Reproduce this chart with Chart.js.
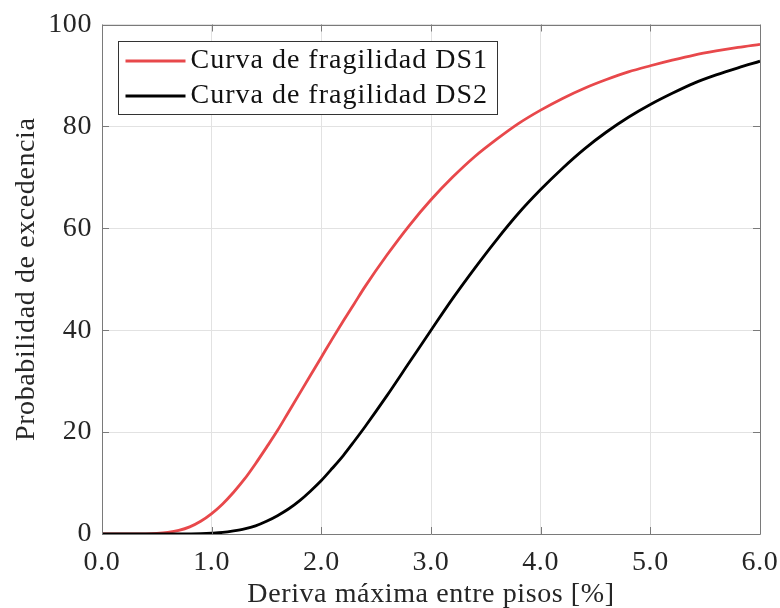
<!DOCTYPE html>
<html>
<head>
<meta charset="utf-8">
<script src="https://cdn.jsdelivr.net/npm/chart.js@4"></script>
<style>
  html, body { margin: 0; padding: 0; background: #ffffff; }
  #wrap { position: relative; width: 780px; height: 608px; }
</style>
</head>
<body>
<div id="wrap"><canvas id="c" width="780" height="608"></canvas></div>
<script>
// ---- data ----
const driftValues = [0.0,0.2,0.4,0.5,0.6,0.7,0.8,0.9,1.0,1.1,1.2,1.3,1.4,1.5,1.6,1.7,1.8,1.9,2.0,2.1,2.2,2.3,2.4,2.6,2.8,3.0,3.2,3.4,3.6,3.8,4.0,4.2,4.4,4.6,4.8,5.0,5.2,5.4,5.6,5.8,6.0];
const ds1Values = [0,0,0.02,0.1,0.3,0.7,1.4,2.5,4.0,5.9,8.2,10.8,13.8,17.0,20.3,23.9,27.5,31.1,34.7,38.3,41.8,45.2,48.6,54.8,60.5,65.6,70.1,74.1,77.5,80.6,83.2,85.5,87.5,89.2,90.7,91.9,93.0,94.0,94.8,95.5,96.1];
const ds2Values = [0,0,0,0,0,0,0.02,0.06,0.15,0.3,0.6,1.0,1.6,2.5,3.6,4.9,6.5,8.4,10.5,12.9,15.4,18.2,21.1,27.2,33.6,40.0,46.3,52.2,57.8,63.0,67.6,71.8,75.6,78.9,81.8,84.3,86.5,88.5,90.1,91.5,92.8];
const seriesLabels = ['Curva de fragilidad DS1', 'Curva de fragilidad DS2'];
const xTickValues = [0, 1, 2, 3, 4, 5, 6];
const yTickValues = [0, 20, 40, 60, 80, 100];
const xTitle = 'Deriva máxima entre pisos [%]';
const yTitle = 'Probabilidad de excedencia';

const FONT = '"Liberation Serif", "DejaVu Serif", serif';
const FS = 28;
const TEXT = '#262626';
const AXIS = '#7a7a7a';
const GRID = '#e2e2e2';
const RED = '#e8484b';

function pts(xs, ys) { return xs.map((x, i) => ({ x: x, y: ys[i] })); }

const spacingPlugin = {
  id: 'spacing',
  beforeDraw(chart) { if ('letterSpacing' in chart.ctx) chart.ctx.letterSpacing = '0.6px'; }
};

const boxTicksPlugin = {
  id: 'boxTicks',
  afterDraw(chart) {
    const { ctx, chartArea: a, scales } = chart;
    const xs = scales.x, ys = scales.y;
    const L = 7;
    ctx.save();
    ctx.strokeStyle = AXIS;
    ctx.lineWidth = 1;
    ctx.beginPath();
    ctx.rect(Math.round(a.left) + 0.5, Math.round(a.top) + 0.5,
             Math.round(a.right) - Math.round(a.left), Math.round(a.bottom) - Math.round(a.top));
    xTickValues.forEach(v => {
      const px = Math.round(xs.getPixelForValue(v)) + 0.5;
      ctx.moveTo(px, a.bottom); ctx.lineTo(px, a.bottom - L);
      ctx.moveTo(px, a.top); ctx.lineTo(px, a.top + L);
    });
    yTickValues.forEach(v => {
      const py = Math.round(ys.getPixelForValue(v)) + 0.5;
      ctx.moveTo(a.left, py); ctx.lineTo(a.left + L, py);
      ctx.moveTo(a.right, py); ctx.lineTo(a.right - L, py);
    });
    ctx.stroke();

    // legend box (MATLAB style, upper left inside axes)
    const bx = Math.round(a.left) + 16.5, by = Math.round(a.top) + 16.5;
    const bw = 379, bh = 73;
    ctx.fillStyle = '#ffffff';
    ctx.fillRect(bx, by, bw, bh);
    ctx.strokeStyle = '#333333';
    ctx.lineWidth = 1;
    ctx.strokeRect(bx, by, bw, bh);
    ctx.font = FS + 'px ' + FONT;
    if ('letterSpacing' in ctx) ctx.letterSpacing = '1px';
    ctx.textBaseline = 'alphabetic';
    ctx.textAlign = 'left';
    chart.data.datasets.forEach((d, i) => {
      const ly = by + 19.5 + i * 35;
      ctx.strokeStyle = d.borderColor;
      ctx.lineWidth = 2.8;
      ctx.beginPath();
      ctx.moveTo(bx + 7, ly); ctx.lineTo(bx + 67, ly);
      ctx.stroke();
      ctx.fillStyle = '#111111';
      ctx.fillText(d.label, bx + 72, ly + 7);
    });
    ctx.restore();
  }
};

new Chart(document.getElementById('c'), {
  type: 'line',
  data: {
    datasets: [
      { label: seriesLabels[0], data: pts(driftValues, ds1Values), borderColor: RED, backgroundColor: RED,
        borderWidth: 2.8, pointRadius: 0, cubicInterpolationMode: 'monotone', order: 1 },
      { label: seriesLabels[1], data: pts(driftValues, ds2Values), borderColor: '#000000', backgroundColor: '#000000',
        borderWidth: 2.8, pointRadius: 0, cubicInterpolationMode: 'monotone', order: 0 }
    ]
  },
  options: {
    responsive: false,
    devicePixelRatio: 1,
    animation: false,
    layout: { padding: { top: 24.5, right: 20, left: 0, bottom: 0 } },
    plugins: { legend: { display: false }, tooltip: { enabled: false } },
    scales: {
      x: {
        type: 'linear', min: 0, max: 6,
        afterBuildTicks: s => { s.ticks = xTickValues.map(v => ({ value: v })); },
        afterFit: s => { s.height = 74; s.paddingLeft = 0; s.paddingRight = 0; },
        grid: { color: GRID, drawTicks: false },
        border: { display: false },
        ticks: { color: TEXT, padding: 12, maxRotation: 0, font: { family: FONT, size: FS },
                 callback: v => Number(v).toFixed(1) },
        title: { display: true, text: xTitle, color: TEXT, font: { family: FONT, size: FS, lineHeight: 0.95 },
                 padding: { top: 0, bottom: 0 } }
      },
      y: {
        type: 'linear', min: 0, max: 100,
        afterBuildTicks: s => { s.ticks = yTickValues.map(v => ({ value: v })); },
        afterFit: s => { s.width = 102; s.paddingTop = 0; s.paddingBottom = 0; },
        grid: { color: GRID, drawTicks: false },
        border: { display: false },
        ticks: { color: TEXT, padding: 10, font: { family: FONT, size: FS } },
        title: { display: true, text: yTitle, color: TEXT, font: { family: FONT, size: FS },
                 padding: { top: 10, bottom: 0 } }
      }
    }
  },
  plugins: [spacingPlugin, boxTicksPlugin]
});
</script>
</body>
</html>
